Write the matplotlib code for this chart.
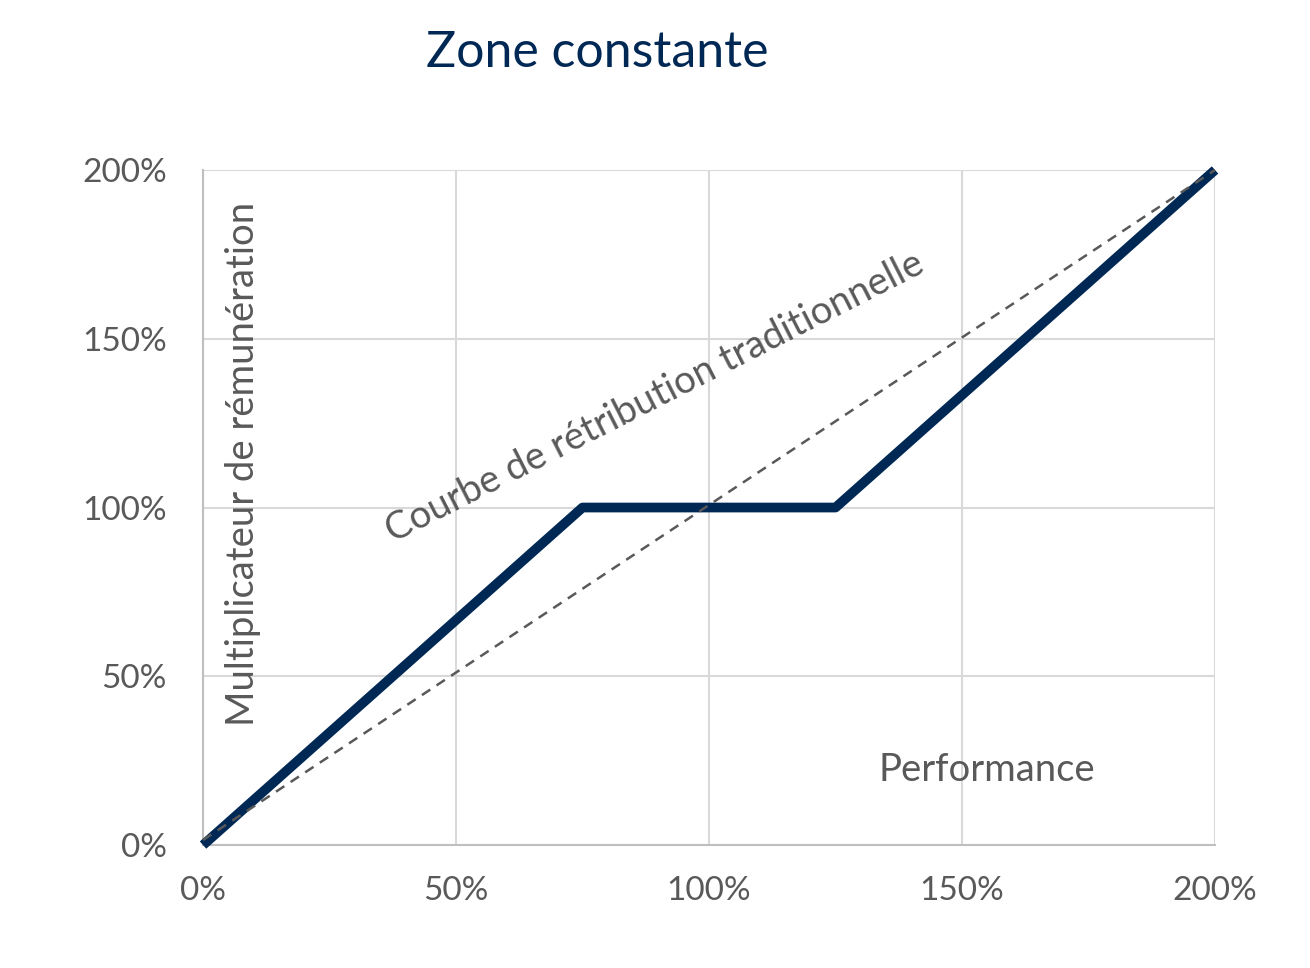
import matplotlib
matplotlib.use("Agg")
import matplotlib.pyplot as plt
from matplotlib.ticker import FuncFormatter

# Données
perf = [0, 75, 125, 200]
multiplicateur = [0, 100, 100, 200]
trad_x = [0, 200]
trad_y = [1.5, 200]
ticks = [0, 50, 100, 150, 200]

plt.rcParams['font.family'] = ['Lato', 'DejaVu Sans']

fig = plt.figure(figsize=(13.1, 9.68), dpi=100)
ax = fig.add_axes([0.155, 0.127, 0.7725, 0.6974])

ax.plot(perf, multiplicateur, color='#002855', linewidth=7, zorder=3, clip_on=False, solid_capstyle='butt')
# courbe traditionnelle par-dessus
ax.plot(trad_x, trad_y, color='#595959', linestyle=(0, (4, 3)), linewidth=1.8, zorder=4, clip_on=False)

ax.set_xlim(0, 200)
ax.set_ylim(0, 200)
ax.set_xticks(ticks)
ax.set_yticks(ticks)
fmt = FuncFormatter(lambda v, p: f"{v:.0f}%")
ax.xaxis.set_major_formatter(fmt)
ax.yaxis.set_major_formatter(fmt)
ax.tick_params(length=0, labelsize=24, labelcolor='#595959')
ax.tick_params(axis='x', pad=22)
ax.tick_params(axis='y', pad=26)
ax.grid(True, color='#D9D9D9', linewidth=1.5)
ax.set_axisbelow(True)
for s in ['top', 'right']:
    ax.spines[s].set_visible(False)
for s in ['left', 'bottom']:
    ax.spines[s].set_color('#BFBFBF')
    ax.spines[s].set_linewidth(1.5)

fig.text(0.456, 0.945, "Zone constante", ha='center', va='center', fontsize=36, color='#002855')
fig.text(243 / 1310, 1 - 464 / 968, "Multiplicateur de rémunération", rotation=90,
         ha='center', va='center', fontsize=27.5, color='#595959')
fig.text(987 / 1310, 1 - 770 / 968, "Performance", ha='center', va='center', fontsize=27.5, color='#595959')
fig.text(655 / 1310, 1 - 397 / 968, "Courbe de rétribution traditionnelle", rotation=27,
         ha='center', va='center', fontsize=27.5, color='#595959', rotation_mode='anchor')

fig.savefig("out.png", dpi=100)
